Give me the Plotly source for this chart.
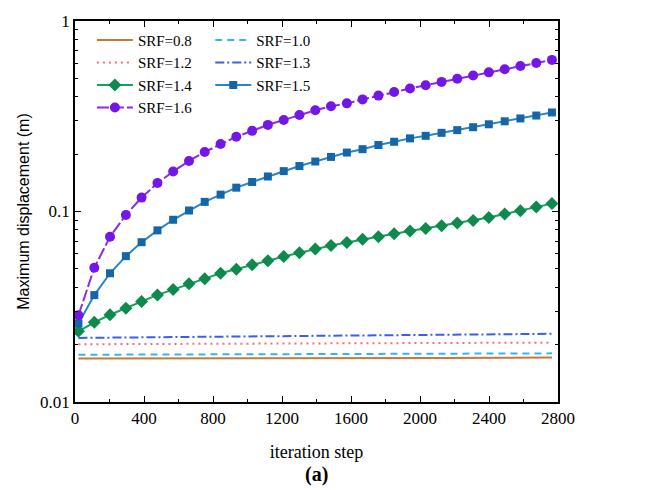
import plotly.graph_objects as go

# iteration steps at which results were recorded (marker positions)
iters = [20, 112, 203, 295, 386, 478, 569, 661, 752, 844, 935, 1027, 1118, 1210, 1301, 1393,
         1484, 1576, 1667, 1759, 1850, 1942, 2033, 2125, 2216, 2308, 2399, 2491, 2582, 2674,
         2765]
iters_flat = [20, 752, 1393, 2125, 2765]

srf08 = [0.0169, 0.0169, 0.0170, 0.0170, 0.0171]
srf10 = [0.0177, 0.0178, 0.0178, 0.0179, 0.0180]
srf12 = [0.0201, 0.0202, 0.0203, 0.0204, 0.0205]
srf13 = [0.0217, 0.0220, 0.0222, 0.0225, 0.0228]

srf14 = [0.0235, 0.0262, 0.0287, 0.0311, 0.0337, 0.0365, 0.0389, 0.0417, 0.0444, 0.0474,
         0.0497, 0.0525, 0.0551, 0.0581, 0.0607, 0.0636, 0.0663, 0.0687, 0.0714, 0.0738,
         0.0765, 0.0789, 0.0815, 0.0842, 0.0869, 0.0896, 0.0930, 0.0970, 0.1010, 0.1055,
         0.1100]
srf15 = [0.0258, 0.0364, 0.0474, 0.0583, 0.0690, 0.0796, 0.0905, 0.1012, 0.1123, 0.1226,
         0.1334, 0.1429, 0.1527, 0.1629, 0.1732, 0.1830, 0.1934, 0.2039, 0.2124, 0.2234,
         0.2323, 0.2420, 0.2496, 0.2588, 0.2674, 0.2770, 0.2870, 0.2975, 0.3080, 0.3190,
         0.3310]
srf16 = [0.0285, 0.0507, 0.0737, 0.0959, 0.1183, 0.1411, 0.1622, 0.1843, 0.2054, 0.2260,
         0.2467, 0.2651, 0.2849, 0.3024, 0.3212, 0.3398, 0.3565, 0.3695, 0.3877, 0.4059,
         0.4238, 0.4419, 0.4603, 0.4789, 0.4975, 0.5170, 0.5375, 0.5585, 0.5800, 0.6020,
         0.6250]

x_ticks = [0, 400, 800, 1200, 1600, 2000, 2400, 2800]
y_ticks = [0.01, 0.1, 1]
y_ticklabels = ["0.01", "0.1", "1"]

SERIF = "Liberation Serif, Times New Roman, serif"
SANS = "Liberation Sans, Arial, sans-serif"

fig = go.Figure()
fig.add_trace(go.Scatter(x=iters_flat, y=srf08, mode="lines", name="SRF=0.8", legend="legend",
                         line=dict(color="#C8783A", width=2)))
fig.add_trace(go.Scatter(x=iters_flat, y=srf10, mode="lines", name="SRF=1.0", legend="legend2",
                         line=dict(color="#33B5F0", width=2, dash="7px,5px")))
fig.add_trace(go.Scatter(x=iters_flat, y=srf12, mode="lines", name="SRF=1.2", legend="legend",
                         line=dict(color="#FF6B6B", width=2, dash="2px,4px")))
fig.add_trace(go.Scatter(x=iters_flat, y=srf13, mode="lines", name="SRF=1.3", legend="legend2",
                         line=dict(color="#3A5BF5", width=2, dash="9px,3px,2px,3px")))
fig.add_trace(go.Scatter(x=iters, y=srf14, mode="lines+markers", name="SRF=1.4", legend="legend",
                         line=dict(color="#14A060", width=2),
                         marker=dict(symbol="diamond", size=10, color="#0E8A4C")))
fig.add_trace(go.Scatter(x=iters, y=srf15, mode="lines+markers", name="SRF=1.5", legend="legend2",
                         line=dict(color="#2A85C8", width=2),
                         marker=dict(symbol="square", size=8, color="#1466A8")))
fig.add_trace(go.Scatter(x=iters, y=srf16, mode="lines+markers", name="SRF=1.6", legend="legend",
                         line=dict(color="#8A2BE8", width=2, dash="12px,3px"),
                         marker=dict(symbol="circle", size=10, color="#7417E6")))

axis_common = dict(showline=True, linecolor="black", linewidth=1.5, mirror="ticks",
                   ticks="inside", tickcolor="black", ticklen=6, showgrid=False,
                   zeroline=False, tickfont=dict(family=SERIF, size=17, color="black"))

fig.update_xaxes(range=[0, 2800], tickvals=x_ticks, ticktext=[str(v) for v in x_ticks],
                 minor=dict(ticks="inside", ticklen=3, tickcolor="black", dtick=200,
                            showgrid=False),
                 title=dict(text="iteration step", font=dict(family=SERIF, size=18, color="black"),
                            standoff=18),
                 **axis_common)
fig.update_yaxes(type="log", range=[-2, 0], tickvals=y_ticks, ticktext=y_ticklabels,
                 minor=dict(ticks="inside", ticklen=3, tickcolor="black",
                            tickvals=[m * d for d in (0.01, 0.1) for m in range(2, 10)],
                            showgrid=False),
                 title=dict(text="Maximum displacement (m)",
                            font=dict(family=SANS, size=16, color="black"), standoff=6),
                 **axis_common)

fig.add_annotation(text="<b>(a)</b>", xref="paper", yref="paper", x=0.5, y=-0.19,
                   yanchor="middle", showarrow=False,
                   font=dict(family=SERIF, size=20, color="black"))

legend_common = dict(orientation="v", yanchor="top", xanchor="left", itemwidth=36,
                     tracegroupgap=0, font=dict(family=SERIF, size=15, color="black"),
                     bgcolor="rgba(0,0,0,0)")

fig.update_layout(
    width=648, height=490,
    margin=dict(l=75, r=90, t=18, b=88),
    paper_bgcolor="white", plot_bgcolor="white",
    showlegend=True,
    legend=dict(x=0.035, y=0.993, **legend_common),
    legend2=dict(x=0.28, y=0.993, **legend_common),
)

fig.write_html("out.html")
